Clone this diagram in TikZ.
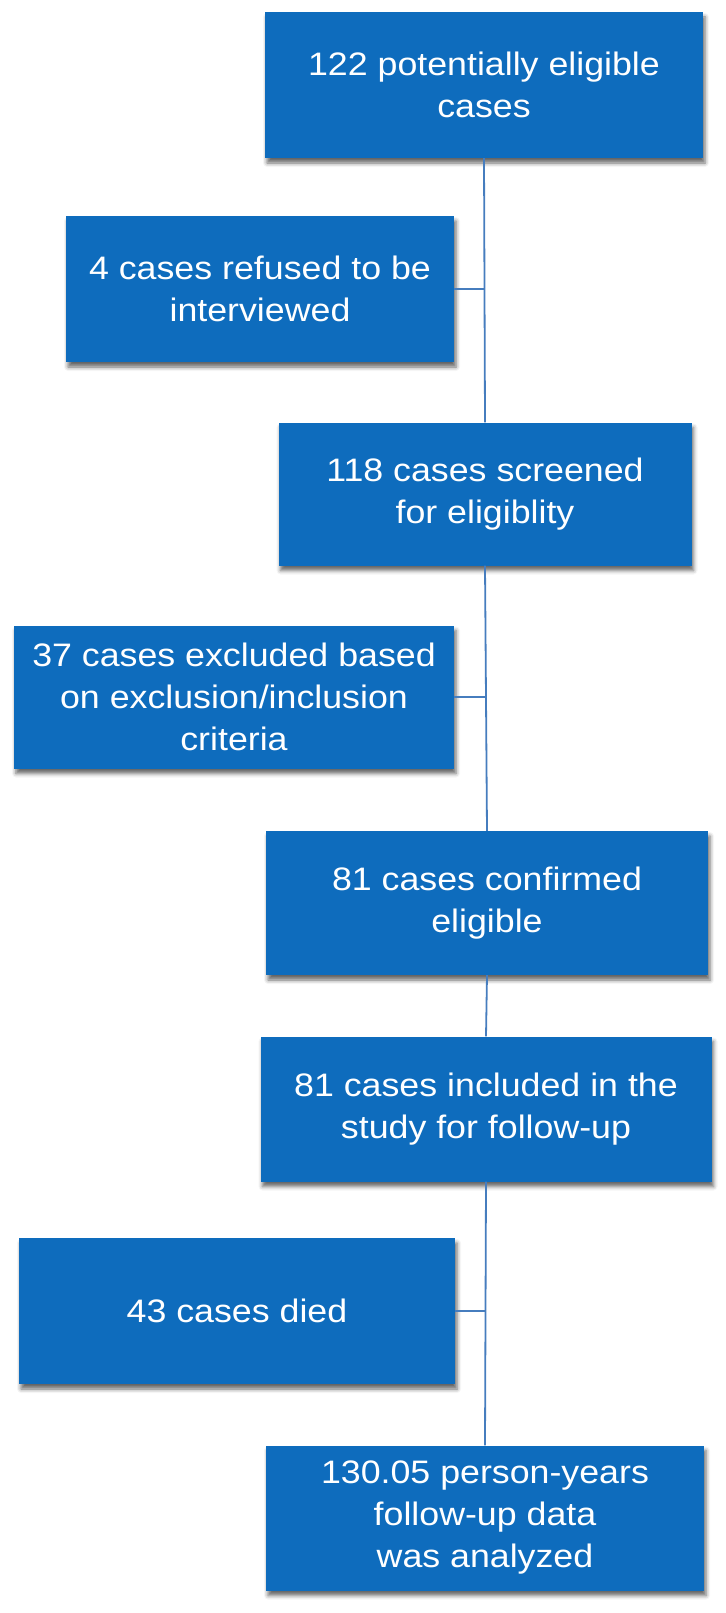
\documentclass[tikz,border=0pt]{standalone}
\usepackage{fontspec}
\setmainfont[FakeStretch=1.1]{Liberation Sans}
\usetikzlibrary{shadows.blur}
\definecolor{boxblue}{RGB}{14,108,189}
\definecolor{lineblue}{RGB}{70,125,190}
\begin{document}
\begin{tikzpicture}[x=1pt,y=-1pt,
  flowbox/.style={rectangle, fill=boxblue, text=white, align=center,
    inner sep=0pt, font=\fontsize{32.5}{42}\selectfont,
    blur shadow={shadow xshift=2pt, shadow yshift=-5pt, shadow blur radius=4pt, shadow opacity=60}},
  link/.style={draw=lineblue, line width=1.8pt}]
\useasboundingbox (0,0) rectangle (725,1613);
\node[flowbox, minimum width=438pt, minimum height=146pt] (b1) at (484,85) {122 potentially eligible\\cases};
\node[flowbox, minimum width=388pt, minimum height=146pt] (b2) at (260,289) {4 cases refused to be\\interviewed};
\node[flowbox, minimum width=413pt, minimum height=143pt] (b3) at (485,494) {118 cases screened\\for eligiblity};
\node[flowbox, minimum width=440pt, minimum height=143pt] (b4) at (234,697) {37 cases excluded based\\on exclusion/inclusion\\criteria};
\node[flowbox, minimum width=442pt, minimum height=144pt] (b5) at (487,903) {81 cases confirmed\\eligible};
\node[flowbox, minimum width=451pt, minimum height=145pt] (b6) at (486,1109) {81 cases included in the\\study for follow-up};
\node[flowbox, minimum width=436pt, minimum height=146pt] (b7) at (237,1311) {43 cases died};
\node[flowbox, minimum width=438pt, minimum height=145pt] (b8) at (485,1518) {130.05 person-years\\follow-up data\\was analyzed};
\draw[link] (b1.south) -- (b3.north);
\draw[link] (b3.south) -- (b5.north);
\draw[link] (b5.south) -- (b6.north);
\draw[link] (b6.south) -- (b8.north);
\draw[link] (b2.east) -- (b2.east -| b1.south);
\draw[link] (b4.east) -- (b4.east -| b3.south);
\draw[link] (b7.east) -- (b7.east -| b6.south);
\end{tikzpicture}
\end{document}
